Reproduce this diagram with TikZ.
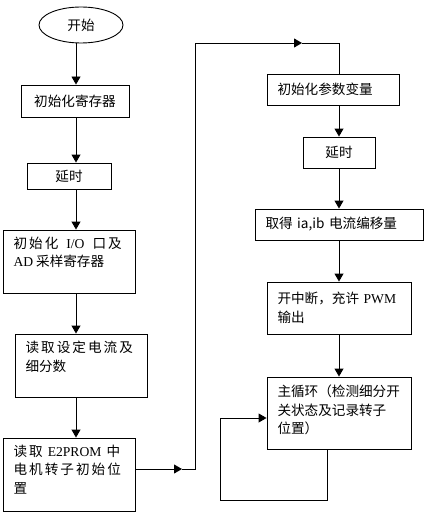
\documentclass[tikz,border=0pt]{standalone}
\usepackage{fontspec}
\setmainfont{Noto Sans CJK SC}
\newfontfamily\lat{Liberation Serif}
\newfontfamily\wide[LetterSpace=15]{Noto Sans CJK SC}
\usetikzlibrary{arrows.meta,shapes.geometric}
\newcommand{\topbox}[3]{\parbox[c][#2][t]{#1}{#3}}

\begin{document}
\begin{tikzpicture}[x=1pt,y=-1pt,line width=0.9pt,
  font=\fontsize{13.6}{18.5}\selectfont,
  box/.style={draw,inner xsep=10.5pt,inner ysep=0pt,align=left},
  arr/.style={-{Triangle[width=9pt,length=8pt]}}]
\useasboundingbox (0,0) rectangle (426,516);
% left column
\coordinate (lx) at (76,0);
\node[draw,ellipse,minimum width=84,minimum height=36,inner sep=0pt] (start) at (81,25) {开始};
\node[box,minimum width=108,minimum height=32,align=center] (b1) at (75,101) {初始化寄存器};
\node[box,minimum width=84,minimum height=26,align=center] (b2) at (69,176) {延时};
\node[box,inner ysep=7pt] (b3) at (69,261.5) {\topbox{111pt}{49pt}{{\wide 初始化\hspace{8pt}{\lat I/O}\hspace{8pt}口及}\\{\lat AD} 采样寄存器}};
\node[box,inner ysep=7pt] (b4) at (81,365.5) {\topbox{111pt}{49pt}{{\wide 读取设定电流及}\\细分数}};
\node[box,inner ysep=7pt] (b5) at (69,474.5) {\topbox{111pt}{59pt}{{\wide 读取 {\lat E2PROM} 中}\\{\wide 电机转子初始位}\\置}};
% right column
\node[box,text width=111pt,minimum height=31] (b6) at (333,89.5) {初始化参数变量};
\node[box,minimum width=72,minimum height=31,align=center] (b7) at (339,152.5) {延时};
\node[box,text width=147pt,minimum height=31] (b8) at (339,224.5) {取得 ia,ib 电流编移量};
\node[box,text width=123pt,minimum height=52] (b9) at (339,308) {开中断，充许 {\lat PWM}\\输出};
\node[box,inner ysep=8pt] (b10) at (339,413) {\topbox{123pt}{56pt}{主循环（检测细分开\\关状态及记录转子\\位置）}};
% connectors
\foreach \a/\b in {start/b1,b1/b2,b2/b3,b3/b4,b4/b5} \draw[arr] (\a.south -| lx) -- (\b.north -| lx);
\coordinate (m1) at (182,469);
\coordinate (c1) at (195,43);
\coordinate (m2) at (302,43);
\draw[arr] (b5.east |- m1) -- (m1);
\draw[arr] (m1) -| (c1) -- (m2);
\draw (m2) -| (b6.north -| b7);
\foreach \a/\b in {b6/b7,b7/b8,b8/b9,b9/b10} \draw[arr] (\a.south -| b7) -- (\b.north -| b7);
% main loop
\coordinate (lp) at (220,500);
\draw[arr] ([xshift=-11.3pt]b10.south) |- (lp) |- ([yshift=-5pt]b10.west);
\end{tikzpicture}
\end{document}
